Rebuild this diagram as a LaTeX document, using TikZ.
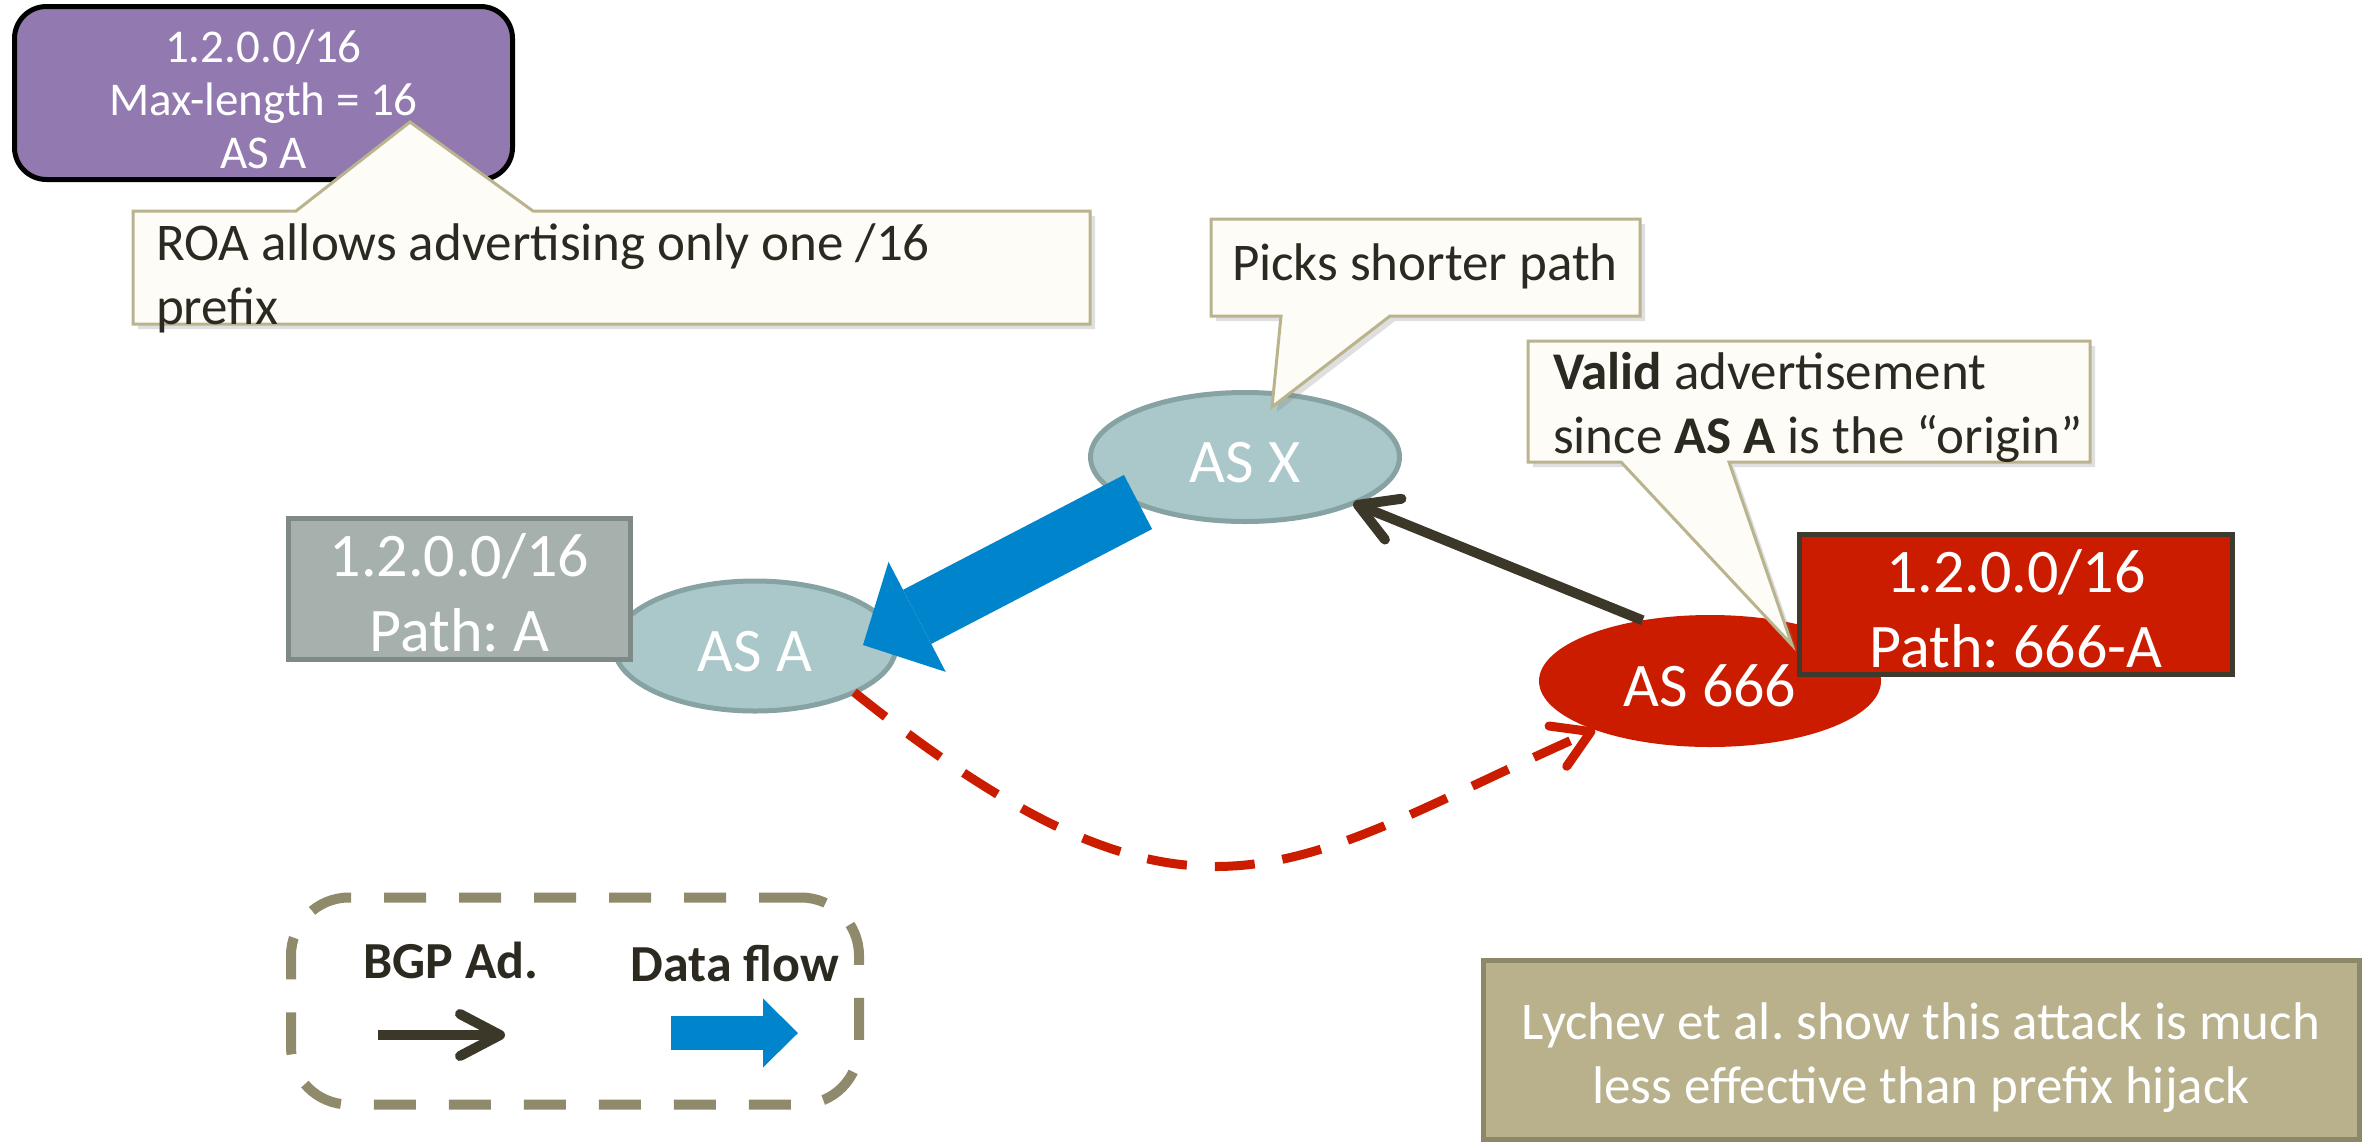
\documentclass[tikz,border=0pt]{standalone}
\usepackage{fontspec}
\setmainfont{Carlito}
\usetikzlibrary{arrows.meta,shapes.geometric,shadows}
\frenchspacing

\definecolor{roapurple}{HTML}{9279B0}
\definecolor{calloutfill}{HTML}{FDFCF6}
\definecolor{calloutedge}{HTML}{BAB48E}
\definecolor{inktext}{HTML}{2C2A20}
\definecolor{asfill}{HTML}{AAC8C9}
\definecolor{asedge}{HTML}{86A2A3}
\definecolor{greyfill}{HTML}{A6B1AD}
\definecolor{greyedge}{HTML}{7F8985}
\definecolor{hijackred}{HTML}{CC1C00}
\definecolor{darkedge}{HTML}{3E3A2E}
\definecolor{flowblue}{HTML}{0085CD}
\definecolor{adblack}{HTML}{3B3829}
\definecolor{legendedge}{HTML}{8F8A6B}
\definecolor{notefill}{HTML}{B8B18C}
\definecolor{noteedge}{HTML}{8D886A}

\begin{document}
\begin{tikzpicture}[x=1pt, y=-1pt,
  every node/.style={inner sep=0pt, outer sep=0pt},
  callout/.style={fill=calloutfill, draw=calloutedge, line width=3pt,
    drop shadow={shadow xshift=5pt, shadow yshift=-5pt, opacity=0.25}},
  callouttext/.style={anchor=base west, align=left, text=inktext,
    font=\fontsize{53}{64}\selectfont},
  asnode/.style={ellipse, fill=asfill, draw=asedge, line width=5pt, text=white,
    font=\fontsize{62}{75}\selectfont, text height=50pt, text depth=0pt},
  pathbox/.style={rectangle, line width=5pt, text=white, align=center,
    font=\fontsize{62}{75}\selectfont},
  adarrow/.style={adblack, line width=10pt,
    -{Straight Barb[length=38pt, width=44pt, round]}},
  legendtext/.style={anchor=base, text=inktext, font=\fontsize{52}{62}\selectfont\bfseries}
]
% canvas
\fill[white] (0,0) rectangle (2363,1141);
\useasboundingbox (0,0) rectangle (2363,1141);

% ROA record (text height sets the last baseline relative to the centre)
\node[rectangle, rounded corners=32pt, fill=roapurple, draw=black, line width=5pt,
  minimum width=498pt, minimum height=173pt, text=white, align=center,
  font=\fontsize{47}{53}\selectfont, text height=150pt, text depth=0pt]
  (roa) at (263.5,93) {1.2.0.0/16\\Max-length = 16\\AS A};

% callout on the ROA
\path[callout] (133,211) -- (296,211) -- (410,122) -- (533,211) -- (1090,211)
  -- (1090,324) -- (133,324) -- cycle;
\node[callouttext] (roanote) at (156,324) {ROA allows advertising only one /16\\prefix};

% autonomous systems
\node[asnode, minimum width=309pt, minimum height=129pt] (asx) at (1245,457) {AS X};
\node[asnode, minimum width=282pt, minimum height=130pt] (asa) at (755,646) {AS A};
\node[pathbox, fill=greyfill, draw=greyedge, minimum width=342pt, minimum height=141pt,
  text height=124pt, text depth=0pt] (greybox) at (459.5,589) {1.2.0.0/16\\Path: A};

\node[ellipse, fill=hijackred, minimum width=342pt, minimum height=132pt, text=white,
  font=\fontsize{62}{75}\selectfont, text height=50pt, text depth=0pt]
  (as666) at (1710,681) {AS 666};
\node[pathbox, fill=hijackred, draw=darkedge, minimum width=433pt, minimum height=140pt,
  text height=125pt, text depth=0pt] (redbox) at (2016,604.5) {1.2.0.0/16\\Path: 666-A};

% callouts on AS X and AS 666
\path[callout] (1211,219) -- (1640,219) -- (1640,316) -- (1390,316) -- (1272,407)
  -- (1281,316) -- (1211,316) -- cycle;
\node[callouttext] (picknote) at (1232,280) {Picks shorter path};

\path[callout] (1528,341) -- (2090,341) -- (2090,462) -- (1729,462) -- (1792,645)
  -- (1621,462) -- (1528,462) -- cycle;
\node[callouttext] (validnote) at (1553,453)
  {\textbf{Valid} advertisement\\since \textbf{AS A} is the “origin”};

% data flow from AS X to AS A
\coordinate (flowstart) at (1138,502);
\coordinate (flowend) at (863,645);
\draw[flowblue, line width=61pt,
  -{Triangle[length=61pt, width=124pt, line width=0pt]}] (flowstart) -- (flowend);

% BGP advertisement from AS 666 to AS X
\draw[adarrow] (as666.138) -- (asx.-23);

% advertisement from AS A to AS 666
\draw[hijackred, line width=9pt, dash pattern=on 40pt off 28pt,
  -{Straight Barb[length=36pt, width=44pt, round]}]
  (asa.-25) .. controls (1200,969) and (1290,864) .. (as666.203);

% legend
\node[rectangle, rounded corners=58pt, draw=legendedge, line width=10pt,
  dash pattern=on 42pt off 33pt, minimum width=568pt, minimum height=207pt]
  (legend) at (575,1001) {};
\node[legendtext] (lgad) at (451,978) {BGP Ad.};
\node[legendtext] (lgflow) at (735,981) {Data flow};
\coordinate (lgadA) at (378,1035);
\coordinate (lgadB) at (505,1035);
\draw[adarrow, -{Straight Barb[length=40pt, width=42pt, round]}] (lgadA) -- (lgadB);
\coordinate (lgflowA) at (671,1033);
\coordinate (lgflowB) at (798,1033);
\draw[flowblue, line width=34pt,
  -{Triangle[length=35pt, width=69pt, line width=0pt]}] (lgflowA) -- (lgflowB);

% remark
\node[rectangle, fill=notefill, draw=noteedge, line width=5pt, minimum width=876pt,
  minimum height=179pt, text=white, align=center, font=\fontsize{53}{64}\selectfont,
  text height=107pt, text depth=0pt] (note) at (1921,1049.5)
  {Lychev et al. show this attack is much\\less effective than prefix hijack};
\end{tikzpicture}
\end{document}
